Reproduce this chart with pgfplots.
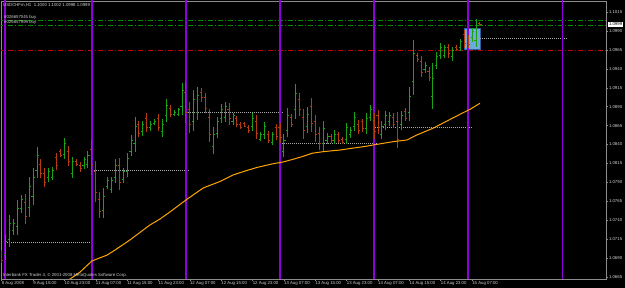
\documentclass[border=0pt]{standalone}
\usepackage{fontspec}
\setmainfont{Liberation Sans}
\usepackage{pgfplots}
\usepackage{pgfplotstable}
\pgfplotsset{compat=1.18}
\definecolor{upc}{HTML}{16A316}
\definecolor{dnc}{HTML}{B83A12}
\definecolor{mac}{HTML}{FFA500}
\definecolor{sepc}{HTML}{9000DC}
\definecolor{axc}{HTML}{8C8C8C}
\definecolor{txt}{HTML}{D0D0D0}
\definecolor{ordg}{HTML}{008C00}
\definecolor{ordr}{HTML}{C00000}
\definecolor{boxf}{HTML}{6FA8DC}
\definecolor{boxd}{HTML}{2F5F9F}
\definecolor{lvl}{HTML}{A8A8A8}
\newcommand\mt{\fontsize{4.3}{5}\selectfont}

\pgfplotstableread{
x o h l c
1 1.0695 1.0720 1.0687 1.0712
2 1.0715 1.0747 1.0704 1.0736
3 1.0726 1.0741 1.0720 1.0736
4 1.0732 1.0767 1.0720 1.0755
5 1.0756 1.0773 1.0749 1.0767
7 1.0757 1.0797 1.0744 1.0784
8 1.0772 1.0809 1.0760 1.0797
9 1.0806 1.0837 1.0796 1.0826
12 1.0796 1.0809 1.0790 1.0804
13 1.0797 1.0810 1.0793 1.0806
16 1.0827 1.0849 1.0821 1.0842
18 1.0802 1.0823 1.0796 1.0817
21 1.0812 1.0823 1.0808 1.0820
22 1.0814 1.0831 1.0809 1.0826
26 1.0753 1.0782 1.0743 1.0772
27 1.0785 1.0797 1.0781 1.0793
28 1.0781 1.0797 1.0776 1.0792
29 1.0797 1.0821 1.0789 1.0813
31 1.0794 1.0809 1.0789 1.0804
32 1.0805 1.0829 1.0797 1.0821
33 1.0831 1.0853 1.0825 1.0846
34 1.0842 1.0876 1.0830 1.0864
36 1.0857 1.0871 1.0851 1.0866
38 1.0862 1.0871 1.0858 1.0867
39 1.0868 1.0874 1.0866 1.0871
41 1.0857 1.0874 1.0850 1.0867
42 1.0878 1.0900 1.0870 1.0892
44 1.0880 1.0886 1.0878 1.0883
45 1.0880 1.0888 1.0878 1.0886
46 1.0890 1.0921 1.0879 1.0911
49 1.0871 1.0912 1.0858 1.0899
50 1.0883 1.0916 1.0872 1.0905
54 1.0837 1.0863 1.0827 1.0854
55 1.0855 1.0876 1.0849 1.0870
56 1.0875 1.0894 1.0868 1.0887
57 1.0876 1.0896 1.0870 1.0890
59 1.0870 1.0882 1.0866 1.0878
64 1.0864 1.0882 1.0858 1.0875
66 1.0847 1.0857 1.0845 1.0854
67 1.0853 1.0870 1.0847 1.0864
69 1.0843 1.0857 1.0839 1.0853
72 1.0831 1.0854 1.0823 1.0846
73 1.0859 1.0888 1.0850 1.0879
75 1.0886 1.0920 1.0874 1.0908
78 1.0864 1.0890 1.0855 1.0880
82 1.0841 1.0871 1.0830 1.0861
83 1.0845 1.0855 1.0841 1.0851
85 1.0846 1.0859 1.0841 1.0854
88 1.0847 1.0868 1.0841 1.0862
89 1.0853 1.0863 1.0849 1.0859
90 1.0864 1.0883 1.0858 1.0876
93 1.0861 1.0882 1.0854 1.0875
94 1.0876 1.0892 1.0871 1.0887
97 1.0854 1.0871 1.0847 1.0864
98 1.0866 1.0884 1.0859 1.0878
99 1.0870 1.0883 1.0864 1.0878
102 1.0866 1.0884 1.0859 1.0878
104 1.0883 1.0916 1.0871 1.0904
105 1.0924 1.0978 1.0905 1.0960
108 1.0939 1.0949 1.0935 1.0945
110 1.0903 1.0948 1.0887 1.0927
111 1.0945 1.0962 1.0940 1.0957
112 1.0958 1.0974 1.0953 1.0969
113 1.0958 1.0972 1.0954 1.0968
115 1.0956 1.0969 1.0950 1.0964
117 1.0968 1.0980 1.0964 1.0976
120 1.0981 1.0994 1.0976 1.0989
121 1.0978 1.1006 1.0969 1.0997
}\upbars

\pgfplotstableread{
x o h l c
0 1.0696 1.0700 1.0683 1.0687
6 1.0764 1.0775 1.0735 1.0745
10 1.0814 1.0821 1.0796 1.0802
11 1.0802 1.0809 1.0784 1.0790
14 1.0823 1.0829 1.0806 1.0812
15 1.0831 1.0834 1.0823 1.0826
17 1.0831 1.0838 1.0812 1.0818
19 1.0818 1.0821 1.0812 1.0814
20 1.0813 1.0817 1.0804 1.0808
23 1.0834 1.0846 1.0800 1.0812
24 1.0805 1.0818 1.0764 1.0777
25 1.0768 1.0777 1.0743 1.0752
30 1.0812 1.0822 1.0780 1.0790
35 1.0866 1.0871 1.0850 1.0855
37 1.0875 1.0882 1.0857 1.0863
40 1.0875 1.0880 1.0858 1.0863
43 1.0888 1.0892 1.0876 1.0880
47 1.0909 1.0923 1.0868 1.0882
48 1.0886 1.0896 1.0855 1.0866
51 1.0909 1.0915 1.0896 1.0902
52 1.0902 1.0908 1.0882 1.0888
53 1.0876 1.0887 1.0843 1.0854
58 1.0887 1.0895 1.0866 1.0874
60 1.0874 1.0878 1.0863 1.0867
61 1.0867 1.0870 1.0861 1.0863
62 1.0868 1.0870 1.0863 1.0864
63 1.0863 1.0866 1.0855 1.0858
65 1.0871 1.0879 1.0847 1.0855
68 1.0854 1.0858 1.0842 1.0846
70 1.0862 1.0867 1.0846 1.0851
71 1.0862 1.0868 1.0842 1.0849
74 1.0876 1.0880 1.0863 1.0867
76 1.0900 1.0908 1.0878 1.0886
77 1.0876 1.0887 1.0847 1.0858
79 1.0890 1.0902 1.0857 1.0868
80 1.0870 1.0879 1.0843 1.0853
81 1.0855 1.0863 1.0833 1.0841
84 1.0851 1.0854 1.0842 1.0845
86 1.0853 1.0857 1.0842 1.0846
87 1.0847 1.0850 1.0841 1.0843
91 1.0867 1.0872 1.0854 1.0859
92 1.0870 1.0874 1.0857 1.0861
95 1.0872 1.0882 1.0847 1.0857
96 1.0878 1.0886 1.0854 1.0862
100 1.0876 1.0882 1.0862 1.0867
101 1.0871 1.0883 1.0835 1.0847
103 1.0884 1.0888 1.0871 1.0875
106 1.0958 1.0961 1.0949 1.0952
107 1.0950 1.0957 1.0929 1.0936
109 1.0937 1.0943 1.0924 1.0929
114 1.0968 1.0973 1.0954 1.0960
116 1.0969 1.0972 1.0964 1.0966
118 1.0985 1.0991 1.0968 1.0974
119 1.0981 1.0985 1.0968 1.0972
122 1.1000 1.1002 1.0998 1.0999
}\downbars

\begin{document}
\begin{tikzpicture}
\useasboundingbox (0,0) rectangle (625pt,288pt);
\fill[black] (0,0) rectangle (625pt,288pt);
\begin{axis}[
  at={(1pt,9pt)}, anchor=south west,
  width=605pt, height=278pt, scale only axis,
  xmin=-0.18, xmax=154.16, ymin=1.06621, ymax=1.10298,
  axis line style={axc, line width=0.6pt},
  xtick={0,8,...,120},
  xticklabels={8 Aug 2008, 9 Aug 15:00, 10 Aug 23:00, 11 Aug 07:00, 11 Aug 15:00, 11 Aug 23:00, 12 Aug 07:00, 12 Aug 15:00, 12 Aug 23:00, 13 Aug 07:00, 13 Aug 15:00, 13 Aug 23:00, 14 Aug 07:00, 14 Aug 15:00, 14 Aug 23:00, 15 Aug 07:00},
  ytick={1.0665,1.0690,1.0715,1.0740,1.0765,1.0790,1.0815,1.0840,1.0865,1.0890,1.0915,1.0940,1.0965,1.0990,1.1015},
  xtick pos=bottom, ytick pos=right, yticklabel pos=right,
  tick align=outside, major tick length=2pt,
  tick style={axc, line width=0.5pt},
  scaled y ticks=false,
  xticklabel style={font=\mt, text=txt, anchor=north west, inner sep=0.5pt, xshift=-0.5pt},
  yticklabel style={font=\mt, text=txt, anchor=west, inner sep=0.8pt, /pgf/number format/.cd, fixed, fixed zerofill, precision=4, assume math mode=true},
  clip=true,
]
% selection box
\addplot[fill=boxf, draw=boxd, line width=0.5pt] coordinates {(117.9,1.0966) (122.05,1.0966) (122.05,1.0994) (117.9,1.0994)} -- cycle;
% order lines
\addplot[ordg, line width=0.7pt, dash pattern=on 5pt off 2pt on 1pt off 2pt] coordinates {(-1,1.1004) (160,1.1004)};
\addplot[ordg, line width=0.7pt, dash pattern=on 5pt off 2pt on 1pt off 2pt] coordinates {(-1,1.0998) (160,1.0998)};
\addplot[ordr, line width=0.7pt, dash pattern=on 5pt off 2pt on 1pt off 2pt] coordinates {(-1,1.0965) (160,1.0965)};
% dotted level lines
\addplot[lvl, line width=0.6pt, dash pattern=on 1pt off 1pt] coordinates {(0.8,1.0710) (23,1.0710)};
\addplot[lvl, line width=0.6pt, dash pattern=on 1pt off 1pt] coordinates {(23,1.0806) (48,1.0806)};
\addplot[lvl, line width=0.6pt, dash pattern=on 1pt off 1pt] coordinates {(47,1.0882) (71.8,1.0882)};
\addplot[lvl, line width=0.6pt, dash pattern=on 1pt off 1pt] coordinates {(71,1.0842) (96,1.0842)};
\addplot[lvl, line width=0.6pt, dash pattern=on 1pt off 1pt] coordinates {(94.7,1.0863) (120.2,1.0863)};
\addplot[lvl, line width=0.6pt, dash pattern=on 1pt off 1pt] coordinates {(119,1.0981) (144.2,1.0981)};
% separators
\addplot[sepc, line width=1.4pt] coordinates {(0.84,1.06) (0.84,1.11)};
\addplot[sepc, line width=1.4pt] coordinates {(23,1.06) (23,1.11)};
\addplot[sepc, line width=1.4pt] coordinates {(47,1.06) (47,1.11)};
\addplot[sepc, line width=1.4pt] coordinates {(71,1.06) (71,1.11)};
\addplot[sepc, line width=1.4pt] coordinates {(95,1.06) (95,1.11)};
\addplot[sepc, line width=1.4pt] coordinates {(119,1.06) (119,1.11)};
\addplot[sepc, line width=1.4pt] coordinates {(143,1.06) (143,1.11)};
% up bars
\addplot[upc, line width=0.9pt, no markers, quiver={u=0, v={\thisrow{h}-\thisrow{l}}}] table[x=x, y=l] {\upbars};
\addplot[upc, line width=0.8pt, no markers, quiver={u=-0.4, v=0}] table[x=x, y=o] {\upbars};
\addplot[upc, line width=0.8pt, no markers, quiver={u=0.4, v=0}] table[x=x, y=c] {\upbars};
% down bars
\addplot[dnc, line width=0.9pt, no markers, quiver={u=0, v={\thisrow{h}-\thisrow{l}}}] table[x=x, y=l] {\downbars};
\addplot[dnc, line width=0.8pt, no markers, quiver={u=-0.4, v=0}] table[x=x, y=o] {\downbars};
\addplot[dnc, line width=0.8pt, no markers, quiver={u=0.4, v=0}] table[x=x, y=c] {\downbars};
% moving average
\addplot[mac, line width=1.0pt, no markers] coordinates {
(16.7,1.06594) (20.0,1.06713) (23.0,1.06859) (26.9,1.06938) (28.9,1.07004) (32.7,1.07137) (37.8,1.07335) (40.4,1.07415) (42.9,1.07507) (47.0,1.07666) (51.4,1.07825) (55.7,1.07911) (59.0,1.07997) (62.1,1.08049) (65.1,1.08096) (68.9,1.08142) (71.8,1.08169) (74.3,1.08204) (76.6,1.08239) (79.2,1.08284) (82.0,1.08305) (86.3,1.08327) (88.9,1.08347) (92.7,1.08374) (94.7,1.08393) (99.8,1.08437) (103.4,1.08460) (105.9,1.08526) (110.0,1.08614) (113.6,1.08711) (116.9,1.08799) (119.5,1.08866) (122.0,1.08945)};
\coordinate (cp) at (axis cs:154.16,1.0999);
\end{axis}
\node[fill=white, text=black, anchor=west, inner sep=0.8pt, font=\mt] at ([xshift=2pt]cp) {1.0999};
\node[anchor=west, font=\mt, text=txt, inner sep=0pt] at (3pt,283pt) {USDCHFm,H1\ \ 1.1000 1.1002 1.0998 1.0999};
\node[anchor=west, font=\mt, text=txt, inner sep=0pt] at (4pt,271pt) {\#026657045 buy};
\node[anchor=west, font=\mt, text=txt, inner sep=0pt] at (4pt,265.5pt) {\#026657999 buy};
\node[anchor=west, font=\mt, text=txt, inner sep=0pt] at (3pt,13pt) {Interbank FX Trader 4, © 2001-2008 MetaQuotes Software Corp.};
\end{tikzpicture}
\end{document}
